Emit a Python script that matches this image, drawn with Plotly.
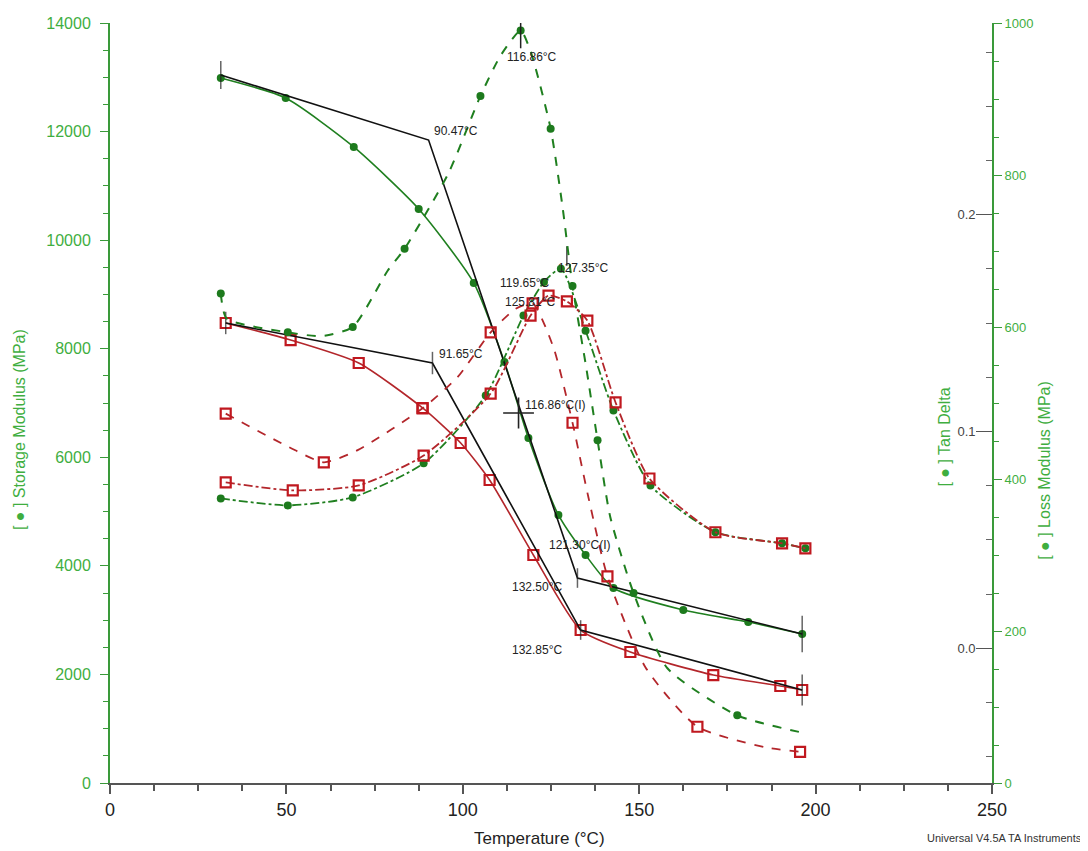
import plotly.graph_objects as go

# ---------------- data ----------------
# Sample A (green, filled circles)
temp_storage_a = [31.4, 49.8, 69.1, 87.5, 103.1, 111.8, 118.6, 127.1, 134.8, 142.7, 162.5, 180.9, 196.2]
storage_a = [12987, 12618, 11716, 10574, 9211, 7755, 6355, 4937, 4200, 3592, 3187, 2966, 2745]

temp_loss_a = [31.4, 33.1, 50.4, 60.0, 68.8, 78.7, 83.5, 96.0, 105.0, 110.7, 116.4, 119.2, 124.9, 128.3,
               131.1, 134.8, 138.2, 141.8, 148.4, 158.0, 177.8, 196.5]
loss_a = [644, 611, 593, 588, 600, 674, 703, 803, 904, 957, 990, 963, 861, 757,
          654, 552, 451, 350, 250, 151, 89, 66]

temp_tan_a = [31.4, 50.4, 68.8, 88.9, 106.5, 117.2, 123.0, 127.8, 134.8, 142.7, 153.2, 171.6, 190.5, 197.1]
tan_a = [0.0691, 0.0659, 0.0696, 0.0853, 0.1166, 0.1535, 0.1690, 0.1751, 0.1465, 0.1097, 0.0751, 0.0535, 0.0484, 0.0461]

# Sample B (red, open squares)
temp_storage_b = [32.8, 51.2, 70.5, 88.6, 99.4, 107.6, 120.0, 133.4, 147.5, 171.0, 190.0, 196.2]
storage_b = [8474, 8160, 7737, 6908, 6263, 5582, 4200, 2818, 2413, 1989, 1787, 1713]

temp_loss_b = [32.8, 50.7, 60.6, 70.2, 88.6, 98.5, 107.9, 115.0, 119.8, 125.7, 131.1, 135.6, 141.0,
               151.8, 166.5, 185.7, 195.6]
loss_b = [486, 442, 422, 438, 493, 534, 593, 624, 631, 573, 474, 376, 272,
          152, 74, 47, 41]

temp_tan_b = [32.8, 51.8, 70.5, 88.9, 107.9, 119.2, 124.3, 129.5, 135.3, 143.3, 152.9, 171.6, 190.5, 197.1]
tan_b = [0.0765, 0.0728, 0.0751, 0.0889, 0.1175, 0.1535, 0.1627, 0.1600, 0.1512, 0.1134, 0.0783, 0.0535, 0.0484, 0.0461]

# onset construction lines (black)
temp_onset_a = [31.4, 90.3, 132.5, 196.2]
storage_onset_a = [13041, 11844, 3776, 2744]
temp_onset_b = [32.8, 91.4, 133.4, 196.2]
storage_onset_b = [8474, 7736, 2818, 1713]

# small vertical tick marks on storage scale
tick_temp = [31.4, 196.2, 32.8, 196.2, 91.4, 132.5, 133.4]
tick_storage = [13041, 2744, 8474, 1713, 7736, 3776, 2818]
tick_size = [20, 26, 16, 22, 16, 14, 14]

# peak ticks
peak_loss_temp = [116.4]
peak_loss_val = [987]
peak_tan_temp = [129.5]
peak_tan_val = [0.181]

# inflection cross
cross_temp = [115.8]
cross_storage = [6816]

# annotation labels (text, temperature, storage-scale height)
label_text = ["116.86°C", "90.47°C", "127.35°C", "119.65°C", "125.81°C", "91.65°C",
              "116.86°C(I)", "121.30°C(I)", "132.50°C", "132.85°C"]
label_temp = [112.1, 91.2, 126.3, 110.1, 111.5, 92.6, 117.2, 124.0, 113.5, 113.5]
label_storage = [13374, 12010, 9487, 9210, 8860, 7903, 6963, 4384, 3610, 2450]

x_ticks = [0, 50, 100, 150, 200, 250]

# ---------------- styles ----------------
GREEN_AX = "#3a9a3a"
GREEN_TXT = "#3fae3f"
GREEN_LINE = "#1f7f1f"
GREEN_MK = "#1d7a1d"
RED_LINE = "#b3262b"
RED_MK = "#c0181f"
NARROW = "Liberation Sans Narrow, Arial Narrow, Arial, sans-serif"
SANS = "Arial, Liberation Sans, sans-serif"
BLACK = "#222222"

fig = go.Figure()

dot = dict(symbol="circle", size=8, color=GREEN_MK)
sq = dict(symbol="square-open", size=10, color=RED_MK, line=dict(width=2.2, color=RED_MK))

# storage moduli
fig.add_trace(go.Scatter(x=temp_storage_a, y=storage_a, mode="lines+markers", yaxis="y",
                         line=dict(color=GREEN_LINE, width=1.6, shape="spline", smoothing=0.6), marker=dot))
fig.add_trace(go.Scatter(x=temp_storage_b, y=storage_b, mode="lines+markers", yaxis="y",
                         line=dict(color=RED_LINE, width=1.6, shape="spline", smoothing=0.6), marker=sq))
# loss moduli
fig.add_trace(go.Scatter(x=temp_loss_a, y=loss_a, mode="lines", yaxis="y3",
                         line=dict(color=GREEN_LINE, width=2, dash="dash", shape="spline", smoothing=0.6)))
fig.add_trace(go.Scatter(x=temp_loss_a[::2], y=loss_a[::2], mode="markers", yaxis="y3", marker=dot))
fig.add_trace(go.Scatter(x=temp_loss_b, y=loss_b, mode="lines", yaxis="y3",
                         line=dict(color=RED_LINE, width=1.8, dash="dash", shape="spline", smoothing=0.6)))
fig.add_trace(go.Scatter(x=temp_loss_b[::2], y=loss_b[::2], mode="markers", yaxis="y3", marker=sq))
# tan delta
fig.add_trace(go.Scatter(x=temp_tan_a, y=tan_a, mode="lines+markers", yaxis="y2",
                         line=dict(color=GREEN_LINE, width=1.8, dash="dashdot", shape="spline", smoothing=0.6), marker=dot))
fig.add_trace(go.Scatter(x=temp_tan_b, y=tan_b, mode="lines+markers", yaxis="y2",
                         line=dict(color=RED_LINE, width=1.8, dash="dashdot", shape="spline", smoothing=0.6), marker=sq))
# onset lines
fig.add_trace(go.Scatter(x=temp_onset_a, y=storage_onset_a, mode="lines", yaxis="y",
                         line=dict(color="#111111", width=1.6)))
fig.add_trace(go.Scatter(x=temp_onset_b, y=storage_onset_b, mode="lines", yaxis="y",
                         line=dict(color="#111111", width=1.6)))
# tick marks
fig.add_trace(go.Scatter(x=tick_temp, y=tick_storage, mode="markers", yaxis="y",
                         marker=dict(symbol="line-ns-open", size=tick_size, color=BLACK,
                                     line=dict(color=BLACK, width=1.5))))
fig.add_trace(go.Scatter(x=peak_loss_temp, y=peak_loss_val, mode="markers", yaxis="y3",
                         marker=dict(symbol="line-ns-open", size=22, color=BLACK,
                                     line=dict(color=BLACK, width=1.5))))
fig.add_trace(go.Scatter(x=peak_tan_temp, y=peak_tan_val, mode="markers", yaxis="y2",
                         marker=dict(symbol="line-ns-open", size=14, color=BLACK,
                                     line=dict(color=BLACK, width=1.2))))
fig.add_trace(go.Scatter(x=cross_temp, y=cross_storage, mode="markers", yaxis="y",
                         marker=dict(symbol="cross-thin-open", size=22, color=BLACK,
                                     line=dict(color=BLACK, width=1.6))))

for t, xv, yv in zip(label_text, label_temp, label_storage):
    fig.add_annotation(x=xv, y=yv, xref="x", yref="y", text=t, showarrow=False,
                       xanchor="left", yanchor="middle", font=dict(family=SANS, size=12, color=BLACK))

# axis titles as annotations
fig.add_annotation(x=-0.102, y=0.4645, xref="paper", yref="paper", text="[ \u25cf ] Storage Modulus (MPa)",
                   textangle=-90, showarrow=False, xanchor="center", yanchor="middle",
                   font=dict(family=SANS, size=16, color=GREEN_TXT))
fig.add_annotation(x=0.946, y=0.455, xref="paper", yref="paper", text="[ \u25cf ] Tan Delta",
                   textangle=-90, showarrow=False, xanchor="center", yanchor="middle",
                   font=dict(family=SANS, size=16, color=GREEN_TXT))
fig.add_annotation(x=1.06, y=0.412, xref="paper", yref="paper", text="[ \u25cf ] Loss Modulus (MPa)",
                   textangle=-90, showarrow=False, xanchor="center", yanchor="middle",
                   font=dict(family=SANS, size=16, color=GREEN_TXT))
fig.add_annotation(x=0.4875, y=-0.073, xref="paper", yref="paper", text="Temperature (°C)",
                   showarrow=False, xanchor="center", yanchor="middle",
                   font=dict(family=NARROW, size=17, color=BLACK))
fig.add_annotation(x=1.104, y=-0.073, xref="paper", yref="paper", text="Universal V4.5A TA Instruments",
                   showarrow=False, xanchor="right", yanchor="middle",
                   font=dict(family=NARROW, size=11, color="#333333"))

fig.update_layout(
    width=1080, height=843,
    margin=dict(l=102, r=96, t=15, b=68, autoexpand=False),
    paper_bgcolor="white", plot_bgcolor="white",
    showlegend=False,
    xaxis=dict(range=[0, 250], tickvals=x_ticks, showgrid=False, zeroline=False, automargin=False,
               showline=True, linecolor="#555555", linewidth=2, ticks="outside", ticklen=9, tickwidth=1.5,
               tickcolor="#555555", ticklabeloverflow="allow",
               minor=dict(dtick=12.5, ticks="outside", ticklen=6, tickcolor="#555555"),
               tickfont=dict(family=NARROW, size=18, color=BLACK)),
    yaxis=dict(range=[0, 14000], dtick=2000, tickformat="d", showgrid=False, zeroline=False, showline=True,
               automargin=False, linecolor=GREEN_AX, linewidth=2, ticks="outside", ticklen=8, tickcolor=GREEN_AX,
               ticklabelstandoff=6,
               minor=dict(dtick=500, ticks="outside", ticklen=5, tickcolor=GREEN_AX),
               tickfont=dict(family=SANS, size=16, color=GREEN_TXT)),
    yaxis2=dict(range=[-0.0622, 0.2885], tickvals=[0.0, 0.1, 0.2], ticktext=["0.0", "0.1", "0.2"],
                overlaying="y", side="right", anchor="x", showgrid=False, zeroline=False, automargin=False,
                showline=True, linecolor=GREEN_AX, linewidth=2, ticks="inside", ticklen=16, tickcolor="#555555",
                ticklabelposition="inside", ticklabeloverflow="allow",
                minor=dict(tick0=0, dtick=0.025, ticks="inside", ticklen=6, tickcolor="#666666"),
                tickfont=dict(family=SANS, size=13, color="#444444")),
    yaxis3=dict(range=[0, 1000], dtick=200, overlaying="y", side="right", anchor="x", showgrid=False,
                zeroline=False, automargin=False, showline=True, linecolor=GREEN_AX, linewidth=2, ticks="outside",
                ticklen=8, tickcolor=GREEN_AX, ticklabeloverflow="allow",
                minor=dict(dtick=50, ticks="outside", ticklen=5, tickcolor=GREEN_AX),
                tickfont=dict(family=SANS, size=13, color=GREEN_TXT)),
)

fig.write_html("out.html")
